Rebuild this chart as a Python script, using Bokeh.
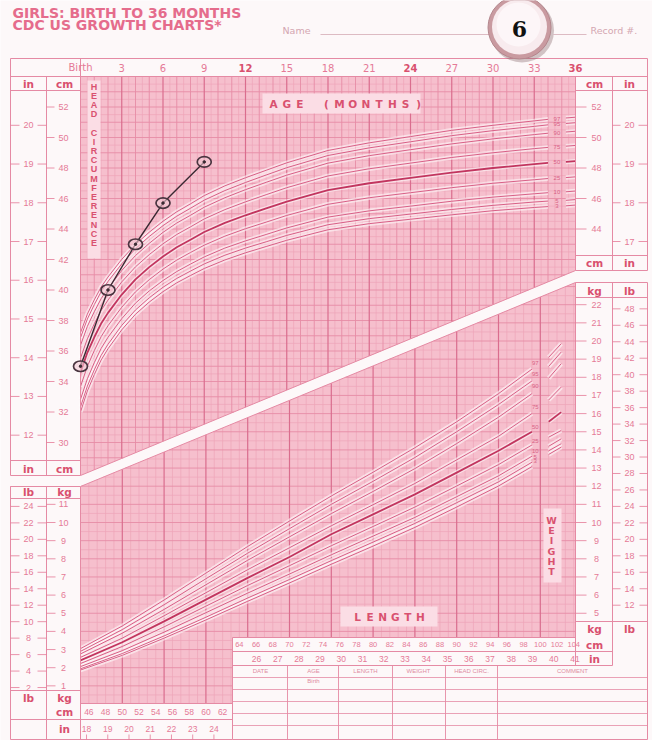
import numpy as np
from bokeh.plotting import figure
from bokeh.models import Range1d
from bokeh.core.properties import value
from bokeh.embed import file_html
from bokeh.resources import INLINE

# ---------------- data ----------------
pct_labels = ["3", "5", "10", "25", "50", "75", "90", "95", "97"]

# head circumference-for-age (cm), girls
hc_age = [0, 0.5, 1, 1.5, 2, 3, 4, 5, 6, 7, 8, 9, 10.5, 12, 13.5, 15, 18, 21, 24, 27, 30, 33, 34]
hc_p3 = [32.0, 33.38, 34.45, 35.41, 36.15, 37.39, 38.41, 39.21, 39.89, 40.47, 40.95, 41.41, 41.97, 42.44, 42.85, 43.26, 43.95, 44.35, 44.64, 44.93, 45.2, 45.41, 45.47]
hc_p5 = [32.33, 33.70, 34.76, 35.71, 36.44, 37.68, 38.69, 39.49, 40.18, 40.76, 41.24, 41.71, 42.28, 42.75, 43.16, 43.58, 44.28, 44.68, 44.98, 45.28, 45.55, 45.77, 45.83]
hc_p10 = [32.83, 34.18, 35.23, 36.17, 36.9, 38.12, 39.14, 39.94, 40.62, 41.21, 41.7, 42.17, 42.75, 43.22, 43.64, 44.07, 44.78, 45.19, 45.5, 45.82, 46.09, 46.31, 46.38]
hc_p25 = [33.67, 35.0, 36.02, 36.94, 37.66, 38.87, 39.88, 40.68, 41.37, 41.96, 42.46, 42.94, 43.53, 44.02, 44.45, 44.89, 45.62, 46.05, 46.38, 46.71, 47.0, 47.23, 47.31]
hc_p50 = [34.6, 35.9, 36.9, 37.8, 38.5, 39.7, 40.7, 41.5, 42.2, 42.8, 43.3, 43.8, 44.4, 44.9, 45.35, 45.8, 46.55, 47.0, 47.35, 47.7, 48.0, 48.25, 48.33]
hc_p75 = [35.53, 36.8, 37.78, 38.66, 39.34, 40.53, 41.52, 42.32, 43.03, 43.64, 44.14, 44.66, 45.27, 45.78, 46.25, 46.71, 47.48, 47.95, 48.32, 48.69, 49.0, 49.27, 49.35]
hc_p90 = [36.37, 37.62, 38.57, 39.43, 40.1, 41.28, 42.26, 43.06, 43.78, 44.39, 44.9, 45.43, 46.05, 46.58, 47.06, 47.53, 48.32, 48.81, 49.2, 49.58, 49.91, 50.19, 50.28]
hc_p95 = [36.87, 38.1, 39.04, 39.89, 40.56, 41.72, 42.71, 43.51, 44.22, 44.84, 45.36, 45.89, 46.52, 47.05, 47.54, 48.02, 48.82, 49.32, 49.72, 50.12, 50.45, 50.73, 50.83]
hc_p97 = [37.2, 38.42, 39.35, 40.19, 40.85, 42.01, 42.99, 43.79, 44.51, 45.13, 45.65, 46.19, 46.83, 47.36, 47.85, 48.34, 49.15, 49.65, 50.06, 50.47, 50.8, 51.09, 51.19]
hc_tail_age = [35.3, 36.0]
hc_tail = [[45.52, 45.57], [45.88, 45.93], [46.44, 46.49], [47.37, 47.42], [48.40, 48.45],
           [49.43, 49.48], [50.36, 50.41], [50.92, 50.97], [51.28, 51.33]]

# weight-for-length (kg), girls
wl_len = [45, 50, 55, 60, 65, 70, 75, 80, 85, 90, 95, 99]
wl_p3 = [1.87, 2.68, 3.63, 4.63, 5.66, 6.67, 7.70, 8.70, 9.73, 10.85, 12.01, 13.08]
wl_p5 = [1.94, 2.78, 3.75, 4.78, 5.84, 6.86, 7.90, 8.92, 9.95, 11.09, 12.24, 13.32]
wl_p10 = [2.06, 2.94, 3.96, 5.03, 6.11, 7.16, 8.22, 9.25, 10.28, 11.42, 12.57, 13.65]
wl_p25 = [2.23, 3.17, 4.25, 5.39, 6.53, 7.62, 8.72, 9.78, 10.85, 12.01, 13.19, 14.27]
wl_p50 = [2.40, 3.40, 4.55, 5.75, 6.95, 8.10, 9.35, 10.45, 11.55, 12.75, 13.95, 15.0]
wl_p75 = [2.57, 3.63, 4.86, 6.13, 7.40, 8.61, 9.82, 10.98, 12.15, 13.45, 14.75, 16.0]
wl_p90 = [2.76, 3.90, 5.21, 6.57, 7.92, 9.21, 10.49, 11.71, 12.97, 14.35, 15.8, 17.1]
wl_p95 = [2.90, 4.10, 5.47, 6.90, 8.31, 9.66, 11.00, 12.27, 13.58, 15.0, 16.5, 17.8]
wl_p97 = [3.05, 4.30, 5.73, 7.21, 8.68, 10.08, 11.46, 12.77, 14.12, 15.55, 17.1, 18.45]
wl_tail_len = [101, 102.5]
wl_tail = [[13.75, 14.15], [13.95, 14.34], [14.2, 14.61], [14.7, 15.07], [15.55, 16.08],
           [16.75, 17.46], [17.95, 18.75], [18.6, 19.39], [19.1, 19.85]]

# the child's measurements
patient_age = [0, 2, 4, 6, 9]
patient_hc = [35.0, 40.0, 43.0, 45.7, 48.4]

# tick labels
age_ticks = [0, 3, 6, 9, 12, 15, 18, 21, 24, 27, 30, 33, 36]
age_tick_labels = ["Birth", "3", "6", "9", "12", "15", "18", "21", "24", "27", "30", "33", "36"]
hc_cm_left = [30, 32, 34, 36, 38, 40, 42, 44, 46, 48, 50, 52]
hc_in_left = [12, 13, 14, 15, 16, 17, 18, 19, 20]
hc_cm_right = [44, 46, 48, 50, 52]
hc_in_right = [17, 18, 19, 20]
wt_kg_left = [1, 2, 3, 4, 5, 6, 7, 8, 9, 10, 11]
wt_lb_left = [2, 4, 6, 8, 10, 12, 14, 16, 18, 20, 22, 24]
wt_kg_right = [5, 6, 7, 8, 9, 10, 11, 12, 13, 14, 15, 16, 17, 18, 19, 20, 21, 22]
wt_lb_right = [12, 14, 16, 18, 20, 22, 24, 26, 28, 30, 32, 34, 36, 38, 40, 42, 44, 46, 48]
len_cm_left = [46, 48, 50, 52, 54, 56, 58, 60, 62]
len_in_left = [18, 19, 20, 21, 22, 23, 24]
len_cm_right = [64, 66, 68, 70, 72, 74, 76, 78, 80, 82, 84, 86, 88, 90, 92, 94, 96, 98, 100, 102, 104]
len_in_right = [26, 27, 28, 29, 30, 31, 32, 33, 34, 35, 36, 37, 38, 39, 40, 41]
table_headers = ["DATE", "AGE", "LENGTH", "WEIGHT", "HEAD CIRC.", "COMMENT"]

# ---------------- layout / style ----------------
PAPER = "#fdf8f9"
PINK_BG = "#f6bfcd"
G_LIGHT = "#eea5b9"
G_MED = "#e68ca6"
G_DARK = "#da6d8e"
FRAME = "#e58aa4"
TXT = "#e57a97"
HEAD = "#d9516f"
CURVE = "#d85f86"
CURVE50 = "#c2355f"
FONT = "Liberation Sans"
WIDE = "DejaVu Sans"

# calibration of the printed scales (page pixels)
AGE0_X, PX_MONTH = 80.0, 13.75
HC30_Y, PX_CM_HC = 442.0, 15.25
LEN45_X, PX_CM_LEN = 80.0, 8.36
KG0_Y, PX_KG = 703.5, 18.15
W, H = 652, 740
PX_L, PX_R, PY_T, PY_B = 0.0, float(W), 0.0, float(H)

GL, GR, GT = 80.0, 575.0, 76.0
BT_L, BT_R = 475.0, 270.0      # band upper edge at GL / GR
BB_L, BB_R = 486.0, 282.0      # band lower edge at GL / GR
TBL_X, TBL_Y, BOT_L = 232.0, 637.0, 703.0


def ybt(x):
    return BT_L - (x - GL) * (BT_L - BT_R) / (GR - GL)


def ybb(x):
    return BB_L - (x - GL) * (BB_L - BB_R) / (GR - GL)


p = figure(width=W, height=H, x_range=Range1d(PX_L, PX_R), y_range=Range1d(PY_B, PY_T),
           output_backend="svg", toolbar_location=None, min_border=0,
           x_axis_location=None, y_axis_location=None,
           background_fill_color=PAPER, border_fill_color=PAPER, outline_line_color=None)
p.grid.visible = False
p.extra_x_ranges = {
    "age": Range1d((PX_L - AGE0_X) / PX_MONTH, (PX_R - AGE0_X) / PX_MONTH),
    "len": Range1d(45 + (PX_L - LEN45_X) / PX_CM_LEN, 45 + (PX_R - LEN45_X) / PX_CM_LEN),
}
p.extra_y_ranges = {
    "hc": Range1d(30 + (HC30_Y - PY_B) / PX_CM_HC, 30 + (HC30_Y - PY_T) / PX_CM_HC),
    "wt": Range1d((KG0_Y - PY_B) / PX_KG, (KG0_Y - PY_T) / PX_KG),
}


def txt(xs, ys, ss, size="9px", color=TXT, bold=False, align="center", baseline="middle",
        xr="default", yr="default", font=FONT, angle=0.0):
    p.text(x=list(xs), y=list(ys), text=[str(s) for s in ss], text_font=value(font),
           text_font_size=size, text_color=color, text_font_style="bold" if bold else "normal",
           text_align=align, text_baseline=baseline, x_range_name=xr, y_range_name=yr, angle=angle)


def seg(x0, y0, x1, y1, color=FRAME, width=1.0, xr="default", yr="default", alpha=1.0):
    p.segment(x0=list(x0), y0=list(y0), x1=list(x1), y1=list(y1), line_color=color,
              line_width=width, line_alpha=alpha, x_range_name=xr, y_range_name=yr)


# ---- pink grid areas ----
p.patch([GL, GR, GR, GL], [GT, GT, BT_R, BT_L], fill_color=PINK_BG, line_color=None)
p.patch([GL, GR, GR, TBL_X, TBL_X, GL], [BB_L, BB_R, TBL_Y, TBL_Y, BOT_L, BOT_L],
        fill_color=PINK_BG, line_color=None)

groups = {G_LIGHT: ([], [], [], []), G_MED: ([], [], [], []), G_DARK: ([], [], [], [])}
# top grid (age x head circumference)
for a in np.arange(0.5, 36.0, 0.5):
    x = AGE0_X + PX_MONTH * a
    c = G_DARK if a % 3 == 0 else (G_MED if a % 1 == 0 else G_LIGHT)
    g = groups[c]; g[0].append(x); g[1].append(GT); g[2].append(x); g[3].append(ybt(x))
for cm in np.arange(28.5, 54.0, 0.5):
    y = HC30_Y - PX_CM_HC * (cm - 30)
    if y <= GT + 1 or y >= BT_L:
        continue
    x1 = GR if y <= BT_R else GL + (BT_L - y) * (GR - GL) / (BT_L - BT_R)
    c = G_MED if cm % 1 == 0 else G_LIGHT
    g = groups[c]; g[0].append(GL); g[1].append(y); g[2].append(x1); g[3].append(y)
# bottom grid (length x weight)
for L in np.arange(46, 104.3, 1.0):
    x = LEN45_X + PX_CM_LEN * (L - 45)
    c = G_DARK if L % 5 == 0 else G_LIGHT
    g = groups[c]; g[0].append(x); g[1].append(ybb(x)); g[2].append(x)
    g[3].append(BOT_L if x < TBL_X else TBL_Y)
for k in np.arange(0.5, 23.5, 0.5):
    y = KG0_Y - PX_KG * k
    if y <= BB_R or y >= BOT_L:
        continue
    x0 = GL if y >= BB_L else GL + (BB_L - y) * (GR - GL) / (BB_L - BB_R)
    x1 = GR if y <= TBL_Y else TBL_X
    c = G_MED if k % 1 == 0 else G_LIGHT
    g = groups[c]; g[0].append(x0); g[1].append(y); g[2].append(x1); g[3].append(y)
for c, w in ((G_LIGHT, 0.7), (G_MED, 0.9), (G_DARK, 1.2)):
    g = groups[c]
    seg(g[0], g[1], g[2], g[3], color=c, width=w)

# lighter label boxes
p.quad(left=[262, 340, 543, 87], right=[420, 437, 561, 100], top=[93, 606, 508, 80],
       bottom=[113, 626, 582, 258], fill_color="#fbdde5", line_color=None)

# ---- percentile curves ----
hc_curves = [hc_p3, hc_p5, hc_p10, hc_p25, hc_p50, hc_p75, hc_p90, hc_p95, hc_p97]
wl_curves = [wl_p3, wl_p5, wl_p10, wl_p25, wl_p50, wl_p75, wl_p90, wl_p95, wl_p97]
for i, ys in enumerate(hc_curves):
    for xs, yy in ((hc_age, ys), (hc_tail_age, hc_tail[i])):
        p.line(xs, yy, x_range_name="age", y_range_name="hc", line_color="white",
               line_width=4.5, line_alpha=0.55)
for i, ys in enumerate(wl_curves):
    for xs, yy in ((wl_len, ys), (wl_tail_len, wl_tail[i])):
        p.line(xs, yy, x_range_name="len", y_range_name="wt", line_color="white",
               line_width=4.5, line_alpha=0.55)
for i, ys in enumerate(hc_curves):
    col, w = (CURVE50, 1.8) if pct_labels[i] == "50" else (CURVE, 1.0)
    for xs, yy in ((hc_age, ys), (hc_tail_age, hc_tail[i])):
        p.line(xs, yy, x_range_name="age", y_range_name="hc", line_color=col, line_width=w)
for i, ys in enumerate(wl_curves):
    col, w = (CURVE50, 1.8) if pct_labels[i] == "50" else (CURVE, 1.0)
    for xs, yy in ((wl_len, ys), (wl_tail_len, wl_tail[i])):
        p.line(xs, yy, x_range_name="len", y_range_name="wt", line_color=col, line_width=w)

hc_lab_y = [(c[-1] + t[0]) / 2 for c, t in zip(hc_curves, hc_tail)]
txt([(hc_age[-1] + hc_tail_age[0]) / 2] * 9, hc_lab_y, pct_labels, size="6px", color=CURVE,
    xr="age", yr="hc")
wl_lab_y = [(c[-1] + t[0]) / 2 for c, t in zip(wl_curves, wl_tail)]
txt([(wl_len[-1] + wl_tail_len[0]) / 2 - 0.6] * 9, wl_lab_y, pct_labels, size="6px",
    color=CURVE, xr="len", yr="wt")

# ---- white band edges and frame ----
FR_L, FR_R, FR_T, FR_B = 10.0, 647.0, 58.0, 739.0
C1, C2 = 46.0, 612.0
fx0 = [FR_L, FR_L, GL, GR, FR_L, GL, GR,
       FR_L, FR_L, C1, GL, FR_L, C1, GL,
       FR_R, FR_R, GR, C2, GR, C2, TBL_X,
       FR_L, GR, FR_L, GR, FR_L, FR_L, GR, GR, FR_L, TBL_X, TBL_X, FR_L]
fy0 = [FR_T, BT_L, BT_L, BT_R, BB_L, BB_L, BB_R,
       FR_T, BB_L, GT, FR_T, BB_L, BB_L, BB_L,
       FR_T, BB_R, GT, GT, BB_R, BB_R, TBL_Y,
       GT, 90, 90, 255, 460, 498, 297, 621, 690, 651, 665, 719]
fx1 = [FR_R, GL, GR, FR_R, GL, GR, FR_R,
       FR_L, FR_L, C1, GL, C1, C1, GL,
       FR_R, FR_R, GR, C2, GR, C2, TBL_X,
       FR_R, FR_R, GL, FR_R, GL, GL, FR_R, FR_R, GL, C2, C2, TBL_X]
fy1 = [FR_T, BT_L, BT_R, BT_R, BB_L, BB_R, BB_R,
       BT_L, FR_B, BT_L, BT_L, BB_L, FR_B, FR_B,
       BT_R, FR_B, BT_R, BT_R, 665, 665, FR_B,
       GT, 90, 90, 255, 460, 498, 297, 621, 690, 651, 665, 719]
seg(fx0, fy0, fx1, fy1, color=FRAME, width=1.0)
seg([FR_L, TBL_X], [FR_B, FR_B], [TBL_X, FR_R], [FR_B, FR_B], color=FRAME, width=1.0)
seg([GL, TBL_X], [BOT_L, TBL_Y], [TBL_X, GR], [BOT_L, TBL_Y], color=FRAME, width=1.0)

# ---- column headers ----
HS = "10.5px"
txt([28, 64, 594, 629, 28, 64, 594, 629], [83, 83, 83, 83, 468, 468, 262, 262],
    ["in", "cm", "cm", "in", "in", "cm", "cm", "in"], size=HS, color=HEAD, bold=True, font=WIDE)
txt([28, 64, 594, 629, 28, 64, 594, 629], [491, 491, 290, 290, 697, 697, 628, 628],
    ["lb", "kg", "kg", "lb", "lb", "kg", "kg", "lb"], size=HS, color=HEAD, bold=True, font=WIDE)
txt([64, 64, 594, 594], [711, 728, 644, 658], ["cm", "in", "cm", "in"], size=HS,
    color=HEAD, bold=True, font=WIDE)

# ---- age header ----
bold_age = [a for a in age_ticks if a % 12 == 0 and a > 0]
reg = [(a, l) for a, l in zip(age_ticks, age_tick_labels) if a not in bold_age]
txt([a for a, _ in reg], [67] * len(reg), [l for _, l in reg], size="10px", xr="age", font=WIDE)
txt(bold_age, [67] * len(bold_age), [str(a) for a in bold_age], size="10px", color=HEAD,
    bold=True, xr="age", font=WIDE)

# ---- head circumference scales ----
txt([63] * len(hc_cm_left), hc_cm_left, hc_cm_left, size="9px", yr="hc")
seg([C1] * len(hc_cm_left), hc_cm_left, [54] * len(hc_cm_left), hc_cm_left, color=TXT,
    width=0.8, yr="hc")
in_cm_l = [v * 2.54 for v in hc_in_left]
txt([28] * len(in_cm_l), in_cm_l, hc_in_left, size="9px", yr="hc")
seg([FR_L] * len(in_cm_l) + [37] * len(in_cm_l), in_cm_l * 2,
    [19] * len(in_cm_l) + [C1] * len(in_cm_l), in_cm_l * 2, color=TXT, width=0.8, yr="hc")
txt([596] * len(hc_cm_right), hc_cm_right, hc_cm_right, size="9px", yr="hc")
seg([GR] * len(hc_cm_right), hc_cm_right, [586] * len(hc_cm_right), hc_cm_right, color=TXT,
    width=0.8, yr="hc")
in_cm_r = [v * 2.54 for v in hc_in_right]
txt([629] * len(in_cm_r), in_cm_r, hc_in_right, size="9px", yr="hc")
seg([C2] * len(in_cm_r) + [638] * len(in_cm_r), in_cm_r * 2,
    [620] * len(in_cm_r) + [FR_R] * len(in_cm_r), in_cm_r * 2, color=TXT, width=0.8, yr="hc")

# ---- weight scales ----
txt([63] * len(wt_kg_left), wt_kg_left, wt_kg_left, size="9px", yr="wt")
seg([C1] * len(wt_kg_left), wt_kg_left, [55] * len(wt_kg_left), wt_kg_left, color=TXT,
    width=0.8, yr="wt")
lb_l = [v * 0.45359 for v in wt_lb_left]
txt([28] * len(lb_l), lb_l, wt_lb_left, size="9px", yr="wt")
seg([FR_L] * len(lb_l) + [37] * len(lb_l), lb_l * 2, [19] * len(lb_l) + [C1] * len(lb_l),
    lb_l * 2, color=TXT, width=0.8, yr="wt")
txt([596] * len(wt_kg_right), wt_kg_right, wt_kg_right, size="9px", yr="wt")
seg([GR] * len(wt_kg_right), wt_kg_right, [586] * len(wt_kg_right), wt_kg_right, color=TXT,
    width=0.8, yr="wt")
lb_r = [v * 0.45359 for v in wt_lb_right]
txt([629] * len(lb_r), lb_r, wt_lb_right, size="9px", yr="wt")
seg([C2] * len(lb_r) + [639] * len(lb_r), lb_r * 2, [620] * len(lb_r) + [FR_R] * len(lb_r),
    lb_r * 2, color=TXT, width=0.8, yr="wt")

# ---- length scales ----
txt(len_cm_left, [711] * len(len_cm_left), len_cm_left, size="8.5px", xr="len")
txt([v * 2.54 for v in len_in_left], [728] * len(len_in_left), len_in_left, size="8.5px", xr="len")
seg([v * 2.54 for v in len_in_left], [734] * len(len_in_left), [v * 2.54 for v in len_in_left],
    [739] * len(len_in_left), color=TXT, width=0.8, xr="len")
txt(len_cm_right, [644] * len(len_cm_right), len_cm_right, size="7.5px", xr="len")
txt([v * 2.54 for v in len_in_right], [658] * len(len_in_right), len_in_right, size="8.5px",
    xr="len")

# ---- axis titles ----
age_title = "AGE (MONTHS)"
txt([273 + 13.2 * i for i in range(len(age_title))], [103] * len(age_title), list(age_title),
    size="10.5px", color=HEAD, bold=True, font=WIDE)
len_title = "LENGTH"
txt([357 + 12.6 * i for i in range(len(len_title))], [616] * len(len_title), list(len_title),
    size="10.5px", color=HEAD, bold=True, font=WIDE)
wt_title = "WEIGHT"
txt([551] * len(wt_title), [520 + 10.2 * i for i in range(len(wt_title))], list(wt_title),
    size="9.5px", color=HEAD, bold=True, font=WIDE)
hc_title = "HEAD CIRCUMFERENCE"
hc_pos = []
row = 0
for ch in hc_title:
    if ch != " ":
        hc_pos.append((ch, 86 + 9.2 * row))
    row += 1
txt([93.5] * len(hc_pos), [y for _, y in hc_pos], [c for c, _ in hc_pos], size="9px",
    color=HEAD, bold=True)

# ---- record table ----
tcols = [287, 338, 392, 445, 497]
seg(tcols, [665] * 5, tcols, [FR_B] * 5, color=FRAME, width=0.9)
rows = [677, 689, 701, 713, 725]
seg([TBL_X] * 5, rows, [FR_R] * 5, rows, color=FRAME, width=0.8)
txt([260, 313, 365, 418, 471, 572], [670] * 6, table_headers, size="6px", color="#de8ca2")
txt([313], [680], ["Birth"], size="6px", color="#de8ca2")

# ---- the child's measurements ----
p.line(patient_age, patient_hc, x_range_name="age", y_range_name="hc", line_color="#3b2a33",
       line_width=1.4)
p.ellipse(patient_age, patient_hc, width=14, height=10.5, width_units="screen",
          height_units="screen", x_range_name="age", y_range_name="hc",
          fill_color="#f4c9d3", fill_alpha=0.6, line_color="#4a3540", line_width=1.7)
p.scatter(patient_age, patient_hc, size=2.5, x_range_name="age", y_range_name="hc",
          color="#3b2a33")

# ---- title block ----
txt([12, 12], [12, 24.5], ["GIRLS: BIRTH TO 36 MONTHS", "CDC US GROWTH CHARTS*"], size="14px",
    color="#e56c8c", bold=True, align="left", font=WIDE)
txt([282, 590], [30, 30], ["Name", "Record #."], size="9.5px", color="#d4a6b1", align="left",
    font=WIDE)
seg([320, 553], [34, 34], [490, 586], [34, 34], color="#d9b3bc", width=0.9)

# badge
p.ellipse([521.5], [30], width=64, height=64, fill_color="#7d5e62", fill_alpha=0.35, line_color=None)
p.ellipse([519], [27], width=63, height=63, fill_color="#c99aa0", line_color="#b3878d", line_width=1)
p.ellipse([519], [26.5], width=55, height=55, fill_color="#f8ebee", line_color=None)
p.ellipse([518], [24], width=44, height=44, fill_color="#fdf6f8", line_color=None)
txt([519], [28], ["6"], size="22px", color="#111111", bold=True, font="DejaVu Serif")

open("out.html", "w").write(file_html(p, INLINE))
